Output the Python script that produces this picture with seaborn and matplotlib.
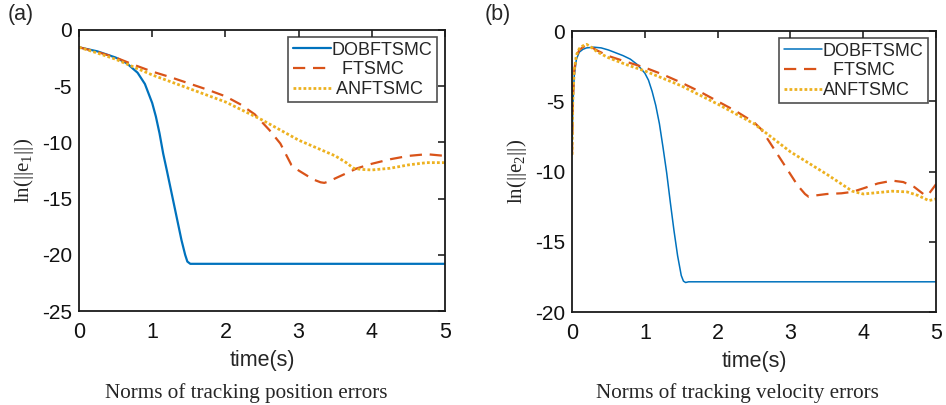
import numpy as np
import pandas as pd
import matplotlib
matplotlib.use("Agg")
import matplotlib.pyplot as plt
import seaborn as sns

series_names = ["DOBFTSMC", "FTSMC", "ANFTSMC"]
colors = ["#0072BD", "#D95319", "#EDB120"]

# ---- panel (a): ln(||e1||)
a_dob_t = [0, 0.25, 0.5, 0.65, 0.8, 0.9, 1.0, 1.05, 1.1, 1.15, 1.2, 1.3, 1.4, 1.45, 1.48, 1.52, 1.6, 5]
a_dob_v = [-1.54, -1.9, -2.45, -2.95, -3.8, -4.8, -6.5, -7.7, -9.2, -11.0, -12.5, -15.6, -18.7, -20.0, -20.6, -20.8, -20.8, -20.8]
a_ft_t = [0, 0.25, 0.5, 0.75, 1, 1.25, 1.5, 1.75, 2, 2.2, 2.4, 2.5, 2.6, 2.75, 2.9, 3.0, 3.1, 3.2, 3.3, 3.35,
          3.4, 3.5, 3.65, 3.8, 4.0, 4.25, 4.5, 4.75, 5]
a_ft_v = [-1.54, -1.95, -2.45, -3.1, -3.7, -4.2, -4.75, -5.3, -5.9, -6.6, -7.5, -8.2, -8.9, -10.1, -12.0, -12.5,
          -12.9, -13.3, -13.55, -13.6, -13.5, -13.2, -12.75, -12.3, -11.9, -11.5, -11.2, -11.05, -11.2]
a_an_t = [0, 0.25, 0.5, 0.75, 1, 1.25, 1.5, 1.75, 2, 2.25, 2.5, 2.75, 3, 3.25, 3.5, 3.65, 3.75, 3.85, 4, 4.25,
          4.5, 4.75, 5]
a_an_v = [-1.54, -2.05, -2.6, -3.3, -4.0, -4.6, -5.2, -5.8, -6.4, -7.2, -8.0, -8.9, -9.8, -10.5, -11.2, -11.8,
          -12.3, -12.4, -12.45, -12.3, -12.0, -11.8, -11.8]

# ---- panel (b): ln(||e2||)
b_dob_t = [0, 0.01, 0.03, 0.06, 0.1, 0.15, 0.2, 0.3, 0.4, 0.5, 0.6, 0.7, 0.8, 0.9, 1.0, 1.05, 1.1, 1.15, 1.2,
           1.25, 1.3, 1.35, 1.4, 1.45, 1.5, 1.53, 1.56, 1.6, 5]
b_dob_v = [-8.8, -5.5, -3.2, -2.0, -1.5, -1.3, -1.2, -1.15, -1.2, -1.35, -1.55, -1.75, -2.0, -2.4, -3.0, -3.5,
           -4.3, -5.3, -6.6, -8.3, -10.1, -12.2, -14.2, -16.0, -17.4, -17.8, -17.9, -17.85, -17.85]
b_ft_t = [0, 0.01, 0.03, 0.06, 0.1, 0.15, 0.2, 0.25, 0.35, 0.5, 0.75, 1.0, 1.25, 1.5, 1.75, 2.0, 2.25, 2.5, 2.6,
          2.7, 2.8, 2.9, 3.0, 3.1, 3.2, 3.25, 3.35, 3.5, 3.7, 3.85, 4.0, 4.2, 4.4, 4.55, 4.7, 4.8, 4.85, 4.9, 5.0]
b_ft_v = [-8.8, -5.0, -2.8, -1.8, -1.35, -1.15, -1.0, -1.1, -1.4, -1.78, -2.2, -2.6, -3.1, -3.67, -4.3, -5.0,
          -5.7, -6.5, -7.0, -7.8, -8.6, -9.4, -10.2, -11.0, -11.6, -11.8, -11.7, -11.6, -11.55, -11.45, -11.2,
          -10.85, -10.65, -10.75, -11.1, -11.5, -11.7, -11.6, -10.9]
b_an_t = [0, 0.01, 0.03, 0.06, 0.1, 0.15, 0.2, 0.25, 0.35, 0.5, 0.75, 1, 1.5, 2, 2.5, 3, 3.5, 3.85, 4.0, 4.2,
          4.4, 4.6, 4.75, 4.9, 5.0]
b_an_v = [-8.8, -5.0, -2.8, -1.7, -1.25, -1.05, -0.95, -1.1, -1.5, -1.9, -2.4, -2.84, -3.9, -5.2, -6.6, -8.6,
          -10.2, -11.4, -11.6, -11.5, -11.4, -11.45, -11.7, -12.07, -11.95]

x_ticks = [0, 1, 2, 3, 4, 5]
a_yticks = [0, -5, -10, -15, -20, -25]
b_yticks = [0, -5, -10, -15, -20]

sns.set_theme(style="white")
plt.rcParams["font.family"] = ["Liberation Sans", "DejaVu Sans"]
plt.rcParams["axes.unicode_minus"] = False
plt.rcParams["mathtext.default"] = "regular"

fig = plt.figure(figsize=(9.46, 4.05), dpi=100)
ax_a = fig.add_axes([0.0835, 0.232, 0.387, 0.694])
ax_b = fig.add_axes([0.6047, 0.2296, 0.3848, 0.6938])

styles = [dict(linestyle="-", linewidth=1.6),
          dict(linestyle=(0, (5.5, 3.5)), linewidth=1.6),
          dict(linestyle=(0, (1, 0.8)), linewidth=2.0)]


def draw(ax, data, yticks, ylim, ylabel, labels, thin_first=False):
    for (t, v), name, c, st in zip(data, labels, colors, styles):
        df = pd.DataFrame({"t": t, "v": v})
        kw = dict(st)
        if thin_first and name.strip() == "DOBFTSMC":
            kw["linewidth"] = 1.1
        sns.lineplot(data=df, x="t", y="v", ax=ax, color=c, label=name, estimator=None, **kw)
    ax.set_xlim(0, 5)
    ax.set_ylim(*ylim)
    ax.set_xticks(x_ticks)
    ax.set_yticks(yticks)
    ax.set_xticklabels([str(x) for x in x_ticks], fontsize=15.5)
    ax.set_yticklabels([str(y) for y in yticks], fontsize=15)
    ax.tick_params(direction="in", length=5, width=1.1, top=True, right=True, pad=5, colors="#111111")
    ax.tick_params(axis="x", pad=8)
    for s in ax.spines.values():
        s.set_linewidth(1.3)
        s.set_color("#1a1a1a")
    ax.set_xlabel("time(s)", fontsize=15.5, labelpad=5)
    ax.set_ylabel(ylabel, fontsize=15, family=["Liberation Serif"], labelpad=4)
    leg = ax.legend(loc="upper right", bbox_to_anchor=(0.978, 0.975), borderaxespad=0,
                    fontsize=13, frameon=True, fancybox=False, handlelength=2.1, handletextpad=0.05,
                    labelspacing=0.15, borderpad=0.25)
    leg.get_frame().set_edgecolor("#222222")
    leg.get_frame().set_linewidth(1.2)


draw(ax_a, [(a_dob_t, a_dob_v), (a_ft_t, a_ft_v), (a_an_t, a_an_v)], a_yticks, (-25, 0), "ln(||e$_1$||)",
     ["DOBFTSMC", "  FTSMC", " ANFTSMC"])
draw(ax_b, [(b_dob_t, b_dob_v), (b_ft_t, b_ft_v), (b_an_t, b_an_v)], b_yticks, (-20, 0), "ln(||e$_2$||)",
     ["DOBFTSMC", "  FTSMC", "ANFTSMC"], thin_first=True)

fig.text(0.008, 0.963, "(a)", fontsize=15.5, va="center", ha="left")
fig.text(0.512, 0.963, "(b)", fontsize=15.5, va="center", ha="left")
fig.text(246 / 946, 0.03, "Norms of tracking position errors", fontsize=15.2, ha="center", va="center",
         family=["Liberation Serif"])
fig.text(737 / 946, 0.03, "Norms of tracking velocity errors", fontsize=15.2, ha="center", va="center",
         family=["Liberation Serif"])

fig.savefig("out.png", dpi=100)
